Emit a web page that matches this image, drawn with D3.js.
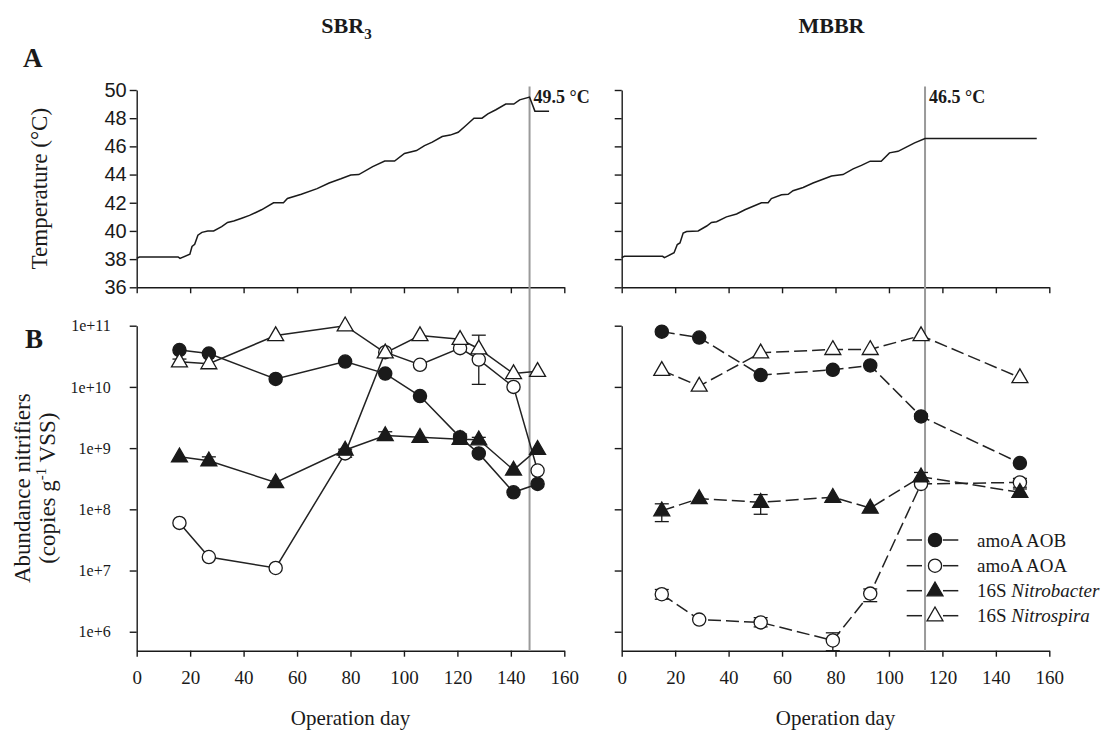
<!DOCTYPE html>
<html><head><meta charset="utf-8">
<script src="https://cdn.jsdelivr.net/npm/d3@7"></script>
<style>body{margin:0;background:#fff} svg{display:block;background:#fff}</style>
</head><body><svg id="c" width="1111" height="734"></svg>
<script>
// ---------------- DATA ----------------
const panelTitles = ["SBR", "MBBR"];
const dayTicks = [0, 20, 40, 60, 80, 100, 120, 140, 160];
const tempTicks = [36, 38, 40, 42, 44, 46, 48, 50];
const abundTicks = [1e6, 1e7, 1e8, 1e9, 1e10, 1e11];
const abundTickLabels = ["1e+6", "1e+7", "1e+8", "1e+9", "1e+10", "1e+11"];

const tempDaysSBR = [0, 1, 15.5, 16.2, 19.9, 20.7, 21.7, 22.9, 24.4, 26.6, 28.8, 31.8, 34, 36.3, 39.3, 42.2, 46.7, 51.2, 54.9, 56.4, 61.6, 67.5, 72, 76.4, 80.1, 83.1, 88.3, 92.8, 96.5, 100.2, 104.7, 107.7, 110.6, 114.3, 117.3, 120.3, 123.3, 126.2, 129.2, 131.4, 134.4, 138.1, 141.1, 143.3, 147, 149, 154.3];
const tempSBR = [38.05, 38.15, 38.15, 38.05, 38.35, 38.9, 39.05, 39.7, 39.9, 40.0, 40.0, 40.3, 40.6, 40.7, 40.9, 41.1, 41.5, 42.0, 42.0, 42.3, 42.6, 43.0, 43.4, 43.7, 43.97, 44.0, 44.56, 44.96, 44.96, 45.5, 45.7, 46.05, 46.3, 46.7, 46.8, 47.0, 47.5, 48.0, 48.0, 48.3, 48.6, 49.0, 49.0, 49.3, 49.5, 48.5, 48.5];

const tempDaysMBBR = [0, 1, 15.3, 16, 19.6, 20.8, 21.8, 23, 24.3, 28.6, 31.8, 33.6, 35.5, 39.2, 43, 46.1, 49.2, 52.3, 54.8, 56, 59.8, 62.3, 64.1, 67.9, 71.6, 75.3, 78.5, 82.8, 86.6, 89.7, 93, 97.1, 100.2, 103.4, 106.5, 109.6, 113.5, 155.3];
const tempMBBR = [38.1, 38.2, 38.2, 38.1, 38.45, 39.03, 39.15, 39.85, 39.96, 40.0, 40.35, 40.6, 40.65, 41.0, 41.2, 41.5, 41.75, 42.0, 42.0, 42.3, 42.57, 42.6, 42.85, 43.08, 43.4, 43.67, 43.9, 44.0, 44.4, 44.65, 44.95, 44.95, 45.54, 45.65, 45.95, 46.25, 46.56, 46.56];

const maxTempDays = [147, 113.5];
const maxTempLabels = ["49.5 °C", "46.5 °C"];

const sbrDays = [16, 27, 52, 78, 93, 106, 121, 128, 141, 150];
const sbrAOB = [4.0e10, 3.5e10, 1.35e10, 2.6e10, 1.65e10, 7.1e9, 1.5e9, 8.2e8, 1.9e8, 2.6e8];
const sbrAOA = [6.0e7, 1.66e7, 1.1e7, 8.2e8, 3.7e10, 2.3e10, 4.3e10, 2.8e10, 1.0e10, 4.3e8];
const sbrNitrobacter = [7.2e8, 6.2e8, 2.75e8, 9.3e8, 1.6e9, 1.5e9, 1.4e9, 1.37e9, 4.4e8, 9.6e8];
const sbrNitrospira = [2.57e10, 2.4e10, 6.9e10, 1.0e11, 3.6e10, 6.9e10, 6.0e10, 4.2e10, 1.65e10, 1.8e10];
const sbrAOBErr = [null, null, null, null, null, null, [1.35e9, 1.7e9], null, null, null];
const sbrAOAErr = [null, null, null, [7.1e8, 9.6e8], null, null, null, [1.1e10, 7.0e10], null, null];
const sbrNitrobacterErr = [null, [5.5e8, 7.2e8], null, null, [1.4e9, 1.85e9], null, null, [1.25e9, 1.5e9], null, null];
const sbrNitrospiraErr = [[2.2e10, 2.85e10], null, null, null, null, null, null, null, null, null];

const mbbrDays = [15, 29, 52, 79, 93, 112, 149];
const mbbrAOB = [8.0e10, 6.4e10, 1.56e10, 1.9e10, 2.24e10, 3.3e9, 5.7e8];
const mbbrAOA = [4.1e6, 1.58e6, 1.42e6, 7.2e5, 4.2e6, 2.6e8, 2.75e8];
const mbbrNitrobacter = [9.5e7, 1.5e8, 1.3e8, 1.58e8, 1.05e8, 3.4e8, 1.9e8];
const mbbrNitrospira = [1.87e10, 1.03e10, 3.6e10, 4.1e10, 4.1e10, 6.9e10, 1.42e10];
const mbbrAOBErr = [null, null, null, null, null, [3.0e9, 3.6e9], null];
const mbbrAOAErr = [[3.4e6, 4.9e6], null, [1.2e6, 1.7e6], [4.9e5, 9.6e5], [3.1e6, 5.0e6], null, [2.3e8, 3.2e8]];
const mbbrNitrobacterErr = [[6.3e7, 1.23e8], null, [8.3e7, 1.74e8], null, null, [2.9e8, 4.0e8], [1.65e8, 2.15e8]];
const mbbrNitrospiraErr = [null, null, null, null, null, null, null];

const legendLabels = [["amoA AOB", ""], ["amoA AOA", ""], ["16S ", "Nitrobacter"], ["16S ", "Nitrospira"]];

// ---------------- DRAW ----------------
const svg = d3.select("#c");
const SERIF = "'Liberation Serif','Times New Roman',serif";
const SANS = "'Liberation Sans',Arial,sans-serif";
const INK = "#1a1a1a";

svg.append("rect").attr("width", 1111).attr("height", 734).attr("fill", "#fff");

const xRanges = [[136.7, 564.3], [621.7, 1049.3]];
const yTemp = d3.scaleLinear().domain([36, 50]).range([287.3, 90]);
const yAb = d3.scaleLog().domain([4.9e5, 1e11]).range([650.7, 325.7]);

const markerStyles = [
  {shape: "circle", fill: INK},
  {shape: "circle", fill: "#fff"},
  {shape: "triangle", fill: INK},
  {shape: "triangle", fill: "#fff"}
];

function drawMarker(g, style, cx, cy) {
  if (style.shape === "circle") {
    g.append("circle").attr("cx", cx).attr("cy", cy).attr("r", 6.6)
      .attr("fill", style.fill).attr("stroke", INK).attr("stroke-width", 1.3);
  } else {
    g.append("path").attr("d", d3.symbol(d3.symbolTriangle, 110)())
      .attr("transform", `translate(${cx},${cy + 0.5})`)
      .attr("fill", style.fill).attr("stroke", INK).attr("stroke-width", 1.3);
  }
}

function styleAxis(g) {
  g.select(".domain").attr("stroke", INK).attr("stroke-width", 1.4);
  g.selectAll(".tick line").attr("stroke", INK).attr("stroke-width", 1.4);
}

const panels = [
  {days: sbrDays, series: [sbrAOB, sbrAOA, sbrNitrobacter, sbrNitrospira],
   errs: [sbrAOBErr, sbrAOAErr, sbrNitrobacterErr, sbrNitrospiraErr],
   tDays: tempDaysSBR, tVals: tempSBR, dash: null},
  {days: mbbrDays, series: [mbbrAOB, mbbrAOA, mbbrNitrobacter, mbbrNitrospira],
   errs: [mbbrAOBErr, mbbrAOAErr, mbbrNitrobacterErr, mbbrNitrospiraErr],
   tDays: tempDaysMBBR, tVals: tempMBBR, dash: "13,5"}
];

panels.forEach((p, pi) => {
  const x = d3.scaleLinear().domain([0, 160]).range(xRanges[pi]);
  const g = svg.append("g");

  // --- top panel axes
  const gxT = g.append("g").attr("transform", `translate(0,${yTemp(36)})`)
    .call(d3.axisBottom(x).tickValues(dayTicks).tickSize(6).tickSizeOuter(0).tickFormat(""));
  styleAxis(gxT);
  const gyT = g.append("g").attr("transform", `translate(${x(0)},0)`)
    .call(d3.axisLeft(yTemp).tickValues(tempTicks).tickSize(7).tickSizeOuter(0).tickPadding(3)
      .tickFormat(pi === 0 ? d3.format("d") : ""));
  styleAxis(gyT);
  gyT.selectAll("text").attr("font-family", SANS).attr("font-size", 20).attr("fill", INK);

  // --- bottom panel axes
  const gxB = g.append("g").attr("transform", `translate(0,${yAb.range()[0]})`)
    .call(d3.axisBottom(x).tickValues(dayTicks).tickSize(6).tickSizeOuter(0).tickPadding(14));
  styleAxis(gxB);
  gxB.selectAll("text").attr("font-family", SERIF).attr("font-size", 19).attr("fill", INK);
  const gyB = g.append("g").attr("transform", `translate(${x(0)},0)`)
    .call(d3.axisLeft(yAb).tickValues(abundTicks).tickSize(7).tickSizeOuter(0).tickPadding(19)
      .tickFormat((d, i) => pi === 0 ? abundTickLabels[i] : ""));
  styleAxis(gyB);
  gyB.selectAll("text").attr("font-family", SERIF).attr("font-size", 16).attr("fill", INK);

  // --- vertical line at max temperature
  g.append("line").attr("x1", x(maxTempDays[pi])).attr("x2", x(maxTempDays[pi]))
    .attr("y1", 86.5).attr("y2", yAb.range()[0])
    .attr("stroke", "#9a9a9a").attr("stroke-width", 2);

  // --- temperature line
  const tData = p.tDays.map((d, i) => [d, p.tVals[i]]);
  g.append("path").datum(tData)
    .attr("d", d3.line().x(d => x(d[0])).y(d => yTemp(d[1])))
    .attr("fill", "none").attr("stroke", INK).attr("stroke-width", 1.5);

  g.append("text").attr("x", x(maxTempDays[pi]) + 4).attr("y", 102.5)
    .attr("font-family", SERIF).attr("font-weight", "bold").attr("font-size", 18)
    .attr("fill", INK).text(maxTempLabels[pi]);

  // --- abundance lines
  p.series.forEach((vals, si) => {
    const data = p.days.map((d, i) => [d, vals[i]]);
    g.append("path").datum(data)
      .attr("d", d3.line().x(d => x(d[0])).y(d => yAb(d[1])))
      .attr("fill", "none").attr("stroke", "#222").attr("stroke-width", 1.5)
      .attr("stroke-dasharray", p.dash);
  });
  // error bars
  p.errs.forEach((errs) => {
    errs.forEach((e, i) => {
      if (!e) return;
      const cx = x(p.days[i]);
      const y1 = yAb(e[0]), y2 = yAb(e[1]);
      g.append("line").attr("x1", cx).attr("x2", cx).attr("y1", y1).attr("y2", y2)
        .attr("stroke", INK).attr("stroke-width", 1.3);
      [y1, y2].forEach(yy => g.append("line").attr("x1", cx - 7).attr("x2", cx + 7)
        .attr("y1", yy).attr("y2", yy).attr("stroke", INK).attr("stroke-width", 1.3));
    });
  });
  // markers
  p.series.forEach((vals, si) => {
    vals.forEach((v, i) => drawMarker(g, markerStyles[si], x(p.days[i]), yAb(v)));
  });

  // --- titles
  const cx = (xRanges[pi][0] + xRanges[pi][1]) / 2;
  const t = g.append("text").attr("x", cx - 4).attr("y", 33).attr("text-anchor", "middle")
    .attr("font-family", SERIF).attr("font-weight", "bold").attr("font-size", 22).attr("fill", INK);
  t.append("tspan").text(panelTitles[pi]);
  if (pi === 0) t.append("tspan").attr("font-size", 15).attr("dy", 6).text("3");

  g.append("text").attr("x", cx).attr("y", 725).attr("text-anchor", "middle")
    .attr("font-family", SERIF).attr("font-size", 21).attr("fill", INK).text("Operation day");
});

// panel letters
svg.append("text").attr("x", 23).attr("y", 67).attr("font-family", SERIF)
  .attr("font-weight", "bold").attr("font-size", 27).attr("fill", INK).text("A");
svg.append("text").attr("x", 25).attr("y", 348).attr("font-family", SERIF)
  .attr("font-weight", "bold").attr("font-size", 27).attr("fill", INK).text("B");

// y axis titles
svg.append("text").attr("transform", `translate(47,${(yTemp(36) + yTemp(50)) / 2}) rotate(-90)`)
  .attr("text-anchor", "middle").attr("font-family", SERIF).attr("font-size", 23).attr("fill", INK)
  .text("Temperature (°C)");
const abMid = (yAb.range()[0] + yAb.range()[1]) / 2;
svg.append("text").attr("transform", `translate(30,${abMid}) rotate(-90)`)
  .attr("text-anchor", "middle").attr("font-family", SERIF).attr("font-size", 23).attr("fill", INK)
  .text("Abundance nitrifiers");
const cp = svg.append("text").attr("transform", `translate(55,${abMid}) rotate(-90)`)
  .attr("text-anchor", "middle").attr("font-family", SERIF).attr("font-size", 23).attr("fill", INK);
cp.append("tspan").text("(copies g");
cp.append("tspan").attr("font-size", 15).attr("dy", -9).text("-1");
cp.append("tspan").attr("dy", 9).text(" VSS)");

// legend
const legRows = [540, 565.7, 590.7, 615.7];
legendLabels.forEach((lab, i) => {
  const y = legRows[i];
  [[906.7, 922], [943, 958.3]].forEach(seg => svg.append("line")
    .attr("x1", seg[0]).attr("x2", seg[1]).attr("y1", y).attr("y2", y)
    .attr("stroke", "#222").attr("stroke-width", 1.5));
  drawMarker(svg, markerStyles[i], 935, y);
  const tx = svg.append("text").attr("x", 977).attr("y", y + 6.5)
    .attr("font-family", SERIF).attr("font-size", 19).attr("fill", INK);
  tx.append("tspan").text(lab[0]);
  if (lab[1]) tx.append("tspan").attr("font-style", "italic").text(lab[1]);
});
</script>
</body></html>
